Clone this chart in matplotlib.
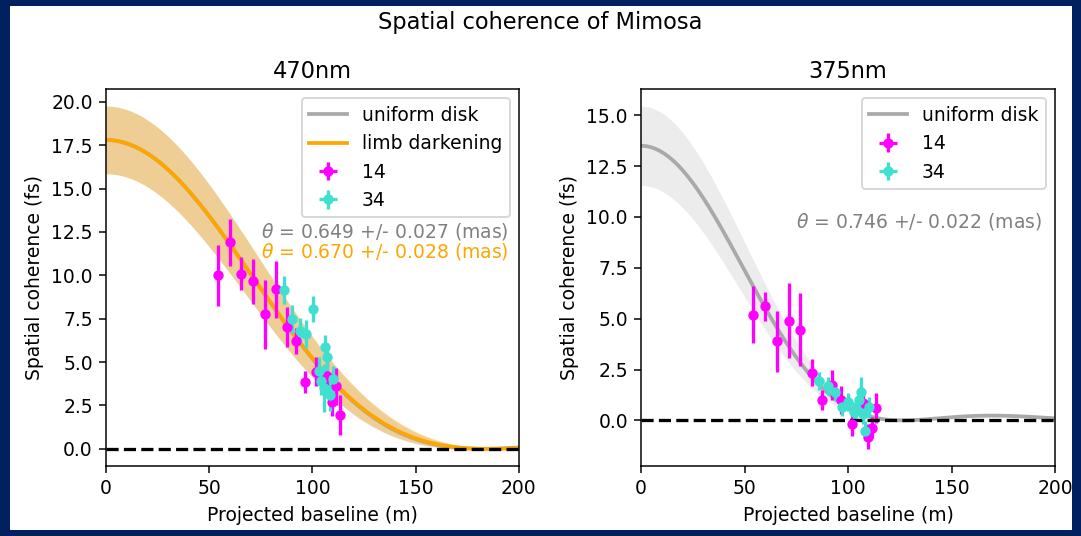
import numpy as np
import matplotlib
matplotlib.use("Agg")
import matplotlib.pyplot as plt
from matplotlib.patches import Rectangle

# projected baselines (m) for the two telescope pairs
baseline_14 = [54.3, 59.9, 65.6, 71.4, 77.0, 82.4, 87.5, 92.2, 96.6, 101.8, 107.0, 109.5, 111.6, 113.4]
baseline_34 = [86.2, 90.1, 93.9, 97.1, 100.2, 103.0, 104.0, 105.5, 106.2, 107.0, 108.3, 110.0]

# measured spatial coherence (fs), 470nm filter
coh_14_470 = [10.0, 11.9, 10.1, 9.65, 7.75, 9.2, 7.0, 6.2, 3.85, 4.45, 4.2, 2.7, 3.6, 1.95]
err_14_470 = [1.75, 1.35, 0.95, 1.3, 2.0, 1.65, 1.15, 0.75, 0.65, 0.85, 0.85, 0.8, 1.05, 1.15]
coh_34_470 = [9.15, 7.5, 6.8, 6.6, 8.05, 4.5, 3.9, 3.5, 5.85, 5.3, 3.1, 4.0]
err_34_470 = [0.8, 0.8, 0.75, 0.8, 0.75, 0.8, 0.8, 1.4, 0.7, 0.8, 0.9, 0.75]

# measured spatial coherence (fs), 375nm filter
coh_14_375 = [5.2, 5.6, 3.9, 4.9, 4.45, 2.35, 1.0, 1.75, 1.0, -0.2, 0.85, -0.8, -0.35, 0.6]
err_14_375 = [1.4, 0.7, 1.5, 1.85, 1.8, 0.65, 0.5, 0.75, 0.7, 0.55, 0.6, 0.6, 0.5, 0.75]
coh_34_375 = [1.95, 1.7, 1.4, 0.65, 0.9, 0.4, 0.6, 1.0, 1.4, 0.3, -0.5, 0.65]
err_34_375 = [0.45, 0.45, 0.45, 0.45, 0.45, 0.5, 0.5, 0.5, 0.75, 0.5, 0.45, 0.5]

# fit results: zero-baseline amplitude (fs) and angular diameter (mas)
amp_470, amp_err_470 = 17.8, 1.95
theta_ud_470, theta_ud_err_470 = 0.649, 0.027
theta_ld_470, theta_ld_err_470 = 0.670, 0.028
amp_375, amp_err_375 = 13.5, 1.95
theta_ud_375, theta_ud_err_375 = 0.746, 0.022
limb_u = 0.4

MAS = np.pi / 180 / 3600 / 1000


def bessel_j1(x):
    tau = np.linspace(0, np.pi, 2001)
    integrand = np.cos(tau[None, :] - x[:, None] * np.sin(tau[None, :]))
    return np.trapezoid(integrand, tau, axis=1) / np.pi


def uniform_disk(b, theta, lam):
    x = np.maximum(np.pi * theta * MAS * b / lam, 1e-3)
    return (2 * bessel_j1(x) / x) ** 2


def limb_darkened(b, theta, lam, u=limb_u):
    x = np.maximum(np.pi * theta * MAS * b / lam, 1e-3)
    v = ((1 - u) * bessel_j1(x) / x + u * (np.sin(x) / x - np.cos(x)) / x**2) / ((1 - u) / 2 + u / 3)
    return v**2


b = np.linspace(0, 200, 401)

fig = plt.figure(figsize=(1081 / 135, 536 / 135), dpi=135, facecolor='#002060')
fig.add_artist(Rectangle((10 / 1081, 6 / 536), 1062 / 1081, 524 / 536,
                         transform=fig.transFigure, facecolor='white', edgecolor='none', zorder=-10))
fig.suptitle('Spatial coherence of Mimosa')

ax1 = fig.add_axes([0.098, 0.1306, 0.382, 0.7034])
ax2 = fig.add_axes([0.593, 0.1306, 0.383, 0.7034])

# 470nm: uniform disk + limb darkening
lam = 470e-9
ax1.fill_between(b, (amp_470 - amp_err_470) * uniform_disk(b, theta_ud_470 + theta_ud_err_470, lam),
                 (amp_470 + amp_err_470) * uniform_disk(b, theta_ud_470 - theta_ud_err_470, lam),
                 color='grey', alpha=0.2, lw=0)
ax1.plot(b, amp_470 * uniform_disk(b, theta_ud_470, lam), color='darkgrey', lw=2, label='uniform disk')
ax1.fill_between(b, (amp_470 - amp_err_470) * limb_darkened(b, theta_ld_470 + theta_ld_err_470, lam),
                 (amp_470 + amp_err_470) * limb_darkened(b, theta_ld_470 - theta_ld_err_470, lam),
                 color='orange', alpha=0.35, lw=0)
ax1.plot(b, amp_470 * limb_darkened(b, theta_ld_470, lam), color='orange', lw=2, label='limb darkening')
ax1.errorbar(baseline_14, coh_14_470, yerr=err_14_470, xerr=0, fmt='o', color='magenta',
             ms=4.5, elinewidth=1.75, label='14')
ax1.errorbar(baseline_34, coh_34_470, yerr=err_34_470, xerr=0, fmt='o', color='turquoise',
             ms=4.5, elinewidth=1.75, label='34')
ax1.axhline(0, color='black', ls='--', lw=1.75)
ax1.text(75, 12.5, r'$\theta$ = %.3f +/- %.3f (mas)' % (theta_ud_470, theta_ud_err_470),
         color='grey', va='center')
ax1.text(75, 11.35, r'$\theta$ = %.3f +/- %.3f (mas)' % (theta_ld_470, theta_ld_err_470),
         color='orange', va='center')
ax1.set_title('470nm')

# 375nm: uniform disk only
lam = 375e-9
ax2.fill_between(b, (amp_375 - amp_err_375) * uniform_disk(b, theta_ud_375 + theta_ud_err_375, lam),
                 (amp_375 + amp_err_375) * uniform_disk(b, theta_ud_375 - theta_ud_err_375, lam),
                 color='grey', alpha=0.15, lw=0)
ax2.plot(b, amp_375 * uniform_disk(b, theta_ud_375, lam), color='darkgrey', lw=2, label='uniform disk')
ax2.errorbar(baseline_14, coh_14_375, yerr=err_14_375, xerr=0, fmt='o', color='magenta',
             ms=4.5, elinewidth=1.75, label='14')
ax2.errorbar(baseline_34, coh_34_375, yerr=err_34_375, xerr=0, fmt='o', color='turquoise',
             ms=4.5, elinewidth=1.75, label='34')
ax2.axhline(0, color='black', ls='--', lw=1.75)
ax2.text(75, 9.8, r'$\theta$ = %.3f +/- %.3f (mas)' % (theta_ud_375, theta_ud_err_375),
         color='grey', va='center')
ax2.set_title('375nm')

for ax in (ax1, ax2):
    ax.set_xlim(0, 200)
    ax.set_xlabel('Projected baseline (m)')
    ax.set_ylabel('Spatial coherence (fs)')
    ax.legend(loc='upper right')

fig.savefig('out.png', dpi=135, facecolor=fig.get_facecolor())
